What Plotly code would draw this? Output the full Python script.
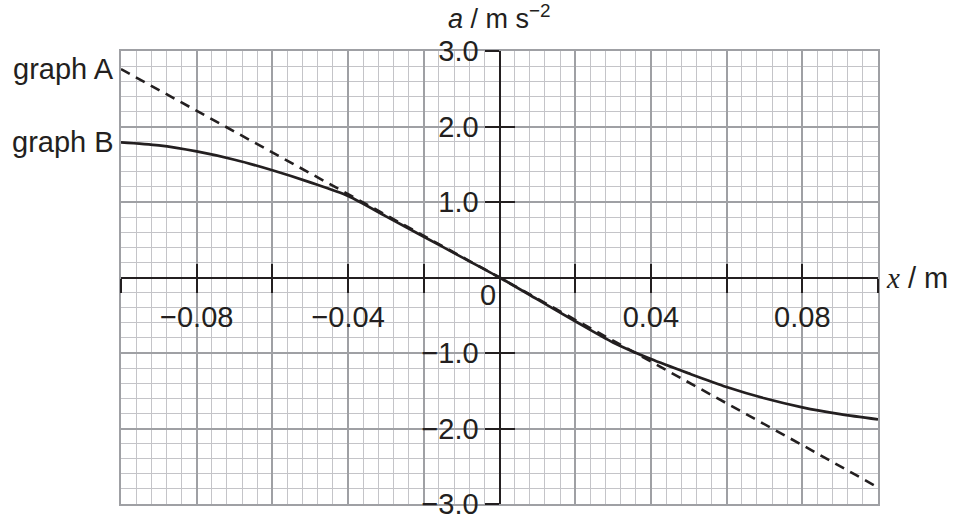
import plotly.graph_objects as go

# values
x_a = [-0.10, -0.08, -0.06, -0.04, -0.02, 0.0, 0.02, 0.04, 0.06, 0.08, 0.10]
a_graph_a = [2.76, 2.21, 1.66, 1.11, 0.55, 0.0, -0.56, -1.11, -1.67, -2.22, -2.78]

x_b = [-0.10, -0.09, -0.08, -0.07, -0.06, -0.05, -0.04, -0.03, -0.02, -0.01, 0.0,
       0.01, 0.02, 0.03, 0.04, 0.05, 0.06, 0.07, 0.08, 0.09, 0.10]
a_graph_b = [1.79, 1.75, 1.67, 1.56, 1.42, 1.26, 1.08, 0.81, 0.54, 0.27, 0.0,
             -0.29, -0.58, -0.86, -1.08, -1.27, -1.45, -1.60, -1.72, -1.81, -1.88]

x_label_vals = [-0.08, -0.04, 0.04, 0.08]
x_label_text = ["\u22120.08", "\u22120.04", "0.04", "0.08"]
y_label_vals = [3, 2, 1, -1, -2, -3]
y_label_text = ["3.0", "2.0", "1.0", "\u22121.0", "\u22122.0", "\u22123.0"]

INK = "#231f20"
FONT = "Liberation Sans, Arial, sans-serif"
FS = 29
X_RANGE = [-0.1, 0.1]
Y_RANGE = [-3, 3]

fig = go.Figure()

fig.add_trace(go.Scatter(x=x_a, y=a_graph_a, mode="lines",
                         line=dict(color=INK, width=2.6, dash="10px,7px"),
                         hoverinfo="skip"))
fig.add_trace(go.Scatter(x=x_b, y=a_graph_b, mode="lines",
                         line=dict(color=INK, width=2.7, shape="spline", smoothing=0.8),
                         hoverinfo="skip"))

# empty traces so the crossing-tick axes get drawn
for n in ("2", "3"):
    fig.add_trace(go.Scatter(x=[None], y=[None], xaxis="x" + n, yaxis="y" + n,
                             mode="markers", hoverinfo="skip"))

grid = dict(showgrid=True, gridcolor="#9fa0a4", gridwidth=1.6, zeroline=False,
            showline=True, mirror=True, linecolor="#9fa0a4", linewidth=1.6,
            ticks="", showticklabels=False, fixedrange=True, automargin=False)

tick = dict(ticklen=14, tickwidth=2, tickcolor=INK)

fig.update_layout(
    width=957, height=521,
    margin=dict(l=121, r=79, t=51, b=17, autoexpand=False),
    paper_bgcolor="white", plot_bgcolor="white",
    showlegend=False,
    font=dict(family=FONT, size=FS, color=INK),
    xaxis=dict(range=X_RANGE, dtick=0.02, tick0=0,
               minor=dict(dtick=0.004, tick0=0, showgrid=True,
                          gridcolor="#c4c4c8", gridwidth=1.2), **grid),
    yaxis=dict(range=Y_RANGE, dtick=1, tick0=0,
               minor=dict(dtick=0.2, tick0=0, showgrid=True,
                          gridcolor="#c4c4c8", gridwidth=1.2), **grid),
    # x axis through a = 0, ticks below
    xaxis2=dict(range=X_RANGE, overlaying="x", anchor="free", position=0.5,
                showgrid=False, zeroline=False, showline=True, linecolor=INK,
                linewidth=2, ticks="outside", tickmode="array",
                tickvals=x_label_vals, ticktext=x_label_text,
                minor=dict(dtick=0.02, tick0=0, ticks="outside", showgrid=False, **tick),
                tickfont=dict(size=FS, color=INK), automargin=False, **tick),
    # same axis, ticks above
    xaxis3=dict(range=X_RANGE, overlaying="x", anchor="free", position=0.5,
                showgrid=False, zeroline=False, showline=False,
                ticks="inside", dtick=0.02, tick0=0, showticklabels=False,
                automargin=False, **tick),
    yaxis2=dict(range=Y_RANGE, overlaying="y", anchor="free", position=0.5,
                showgrid=False, zeroline=False, showline=True, linecolor=INK,
                linewidth=2, ticks="outside", tickmode="array",
                tickvals=y_label_vals, ticktext=y_label_text,
                minor=dict(dtick=1, tick0=0, ticks="outside", showgrid=False, **tick),
                tickfont=dict(size=FS, color=INK), automargin=False, **tick),
    yaxis3=dict(range=Y_RANGE, overlaying="y", anchor="free", position=0.5,
                side="left", showgrid=False, zeroline=False, showline=False,
                ticks="inside", dtick=1, tick0=0, showticklabels=False,
                automargin=False, **tick),
)

# labels
fig.add_annotation(x=0, y=1, xref="x", yref="paper", yanchor="bottom",
                   yshift=15, showarrow=False, font=dict(size=27),
                   text="<i>a</i> / m s<sup>\u22122</sup>")
fig.add_annotation(x=1, y=0, xref="paper", yref="y", xanchor="left",
                   xshift=6, showarrow=False,
                   text="<span style='font-family:Liberation Serif, Times New Roman, serif'>"
                        "<i>x</i></span> / m")
fig.add_annotation(x=0, y=0, xref="x", yref="y", xanchor="right", yanchor="top",
                   xshift=-2, yshift=1, showarrow=False, text="0")
fig.add_annotation(x=x_a[0], y=a_graph_a[0], xref="x", yref="y", xanchor="right",
                   xshift=-5, showarrow=False, text="graph A")
fig.add_annotation(x=x_b[0], y=a_graph_b[0], xref="x", yref="y", xanchor="right",
                   xshift=-5, showarrow=False, text="graph B")

# page body has a default 8px margin; drop it so the figure sits at 0,0
fig.write_html("out.html", config={"displayModeBar": False},
               post_script="document.body.style.margin='0';")
